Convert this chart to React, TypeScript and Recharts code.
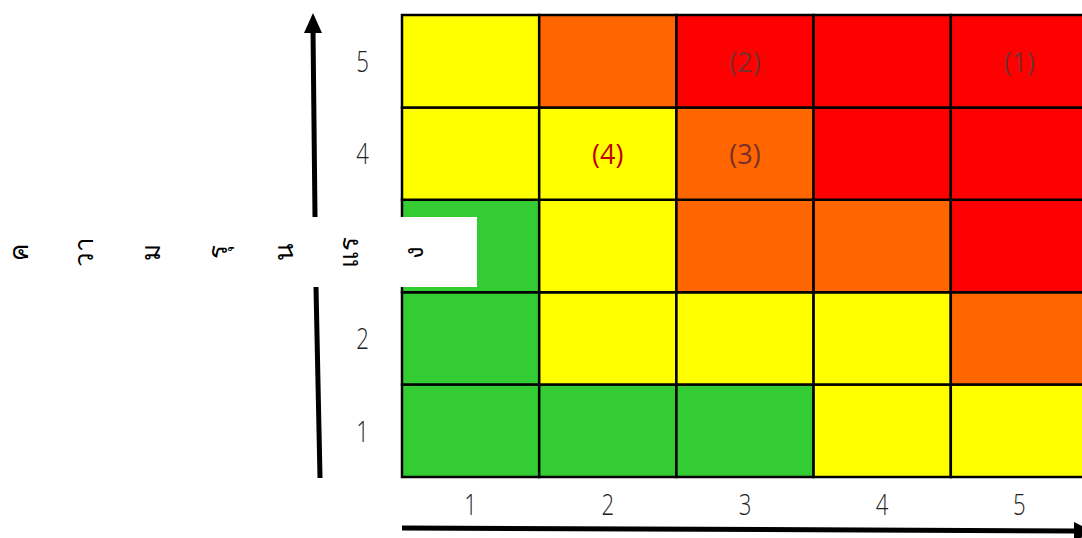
import React from "react";
import { ComposedChart, XAxis, YAxis, ReferenceArea, Scatter } from "recharts";

// Risk matrix: columns = x categories 1..5, rows = y categories 1..5
const xCategories = [1, 2, 3, 4, 5];
const yCategories = [1, 2, 3, 4, 5];
const xTickLabels = ["1", "2", "3", "4", "5"];
const yTickLabels = ["1", "2", "3", "4", "5"];

// risk level per cell (1 = low, 2 = medium, 3 = high, 4 = extreme), columns 1..5
const row1Levels = [1, 1, 1, 2, 2];
const row2Levels = [1, 2, 2, 2, 3];
const row3Levels = [1, 2, 3, 3, 4];
const row4Levels = [2, 2, 3, 4, 4];
const row5Levels = [2, 3, 4, 4, 4];

// numbered items placed in the matrix
const markerLabels = ["(1)", "(2)", "(3)", "(4)"];
const markerX = [5, 3, 3, 2];
const markerY = [5, 5, 4, 4];

// vertical axis title (written as stacked Thai clusters)
const axisTitleClusters = ["ค", "วา", "ม", "รุ", "น", "แร", "ง"];

const levelColors: Record<number, string> = {
  1: "#33CC33",
  2: "#FFFF00",
  3: "#FF6600",
  4: "#FF0000",
};
const highlightLabel = "(4)";

const rowLevels = [row1Levels, row2Levels, row3Levels, row4Levels, row5Levels];
const cells = yCategories.flatMap((y, ri) =>
  xCategories.map((x, ci) => ({ x, y, level: rowLevels[ri][ci] }))
);
const markers = markerLabels.map((label, i) => ({ x: markerX[i], y: markerY[i], label }));

const FONT = "'Open Sans', 'DejaVu Sans', sans-serif";

const makeTick = (labels: string[], anchor: "middle" | "end", dyv: string) => (props: any) => {
  const { x, y, payload } = props;
  return (
    <g transform={`translate(${x},${y}) scale(0.74,1)`}>
      <text x={0} y={0} dy={dyv} textAnchor={anchor} fontSize={30} fill="#222" fontFamily={FONT} fontWeight={300}>
        {labels[payload.value - 1]}
      </text>
    </g>
  );
};
const XTick = makeTick(xTickLabels, "middle", "0.71em");
const YTick = makeTick(yTickLabels, "end", "0.36em");

const MarkerShape = (props: any) => {
  const { cx, cy, payload } = props;
  const isHi = payload.label === highlightLabel;
  return (
    <text
      x={cx}
      y={cy}
      textAnchor="middle"
      dominantBaseline="central"
      fontSize={27}
      fontFamily={FONT}
      fill={isHi ? "#C00000" : "#7A2E2E"}
    >
      {payload.label}
    </text>
  );
};

const titleX = [18, 83, 150, 217, 283, 348, 413];

const Decorations = () => (
  <svg width={1082} height={538} style={{ position: "absolute", left: 0, top: 0, pointerEvents: "none" }}>
    {/* white label box covering part of grid */}
    <rect x={296} y={217} width={181} height={70} fill="#fff" />
    {/* vertical arrow */}
    <line x1={320} y1={478} x2={316} y2={287} stroke="#000" strokeWidth={5} />
    <line x1={315} y1={217} x2={313} y2={30} stroke="#000" strokeWidth={5} />
    <polygon points="313,13 304,33 322,33" fill="#000" />
    {/* horizontal arrow */}
    <line x1={402} y1={528} x2={1076} y2={531} stroke="#000" strokeWidth={5} />
    <polygon points="1094,532 1074,522 1074,541" fill="#000" />
    {axisTitleClusters.map((c, i) => (
      <text
        key={i}
        x={titleX[i]}
        y={252}
        transform={`rotate(-90 ${titleX[i]} 252)`}
        textAnchor="middle"
        dominantBaseline="central"
        fontSize={26}
        fill="#000"
        fontFamily="'Noto Sans', 'DejaVu Sans', sans-serif"
      >
        {c}
      </text>
    ))}
  </svg>
);

export default function App() {
  return (
    <div style={{ position: "absolute", left: 0, top: 0, width: 1082, height: 538, overflow: "hidden", background: "#fff" }}>
      <ComposedChart
        width={1090}
        height={538}
        margin={{ top: 15, right: 2, bottom: 0, left: 0 }}
      >
        <XAxis
          type="number"
          dataKey="x"
          domain={[0.5, 5.5]}
          ticks={xCategories}
          axisLine={false}
          tickLine={false}
          tickSize={0}
          tickMargin={17}
          tick={<XTick />}
          height={61}
          allowDataOverflow
        />
        <YAxis
          type="number"
          dataKey="y"
          domain={[0.5, 5.5]}
          ticks={yCategories}
          axisLine={false}
          tickLine={false}
          tickSize={0}
          tickMargin={33}
          tick={<YTick />}
          width={402}
          allowDataOverflow
        />
        {cells.map((c, i) => (
          <ReferenceArea
            key={i}
            x1={c.x - 0.5}
            x2={c.x + 0.5}
            y1={c.y - 0.5}
            y2={c.y + 0.5}
            fill={levelColors[c.level]}
            fillOpacity={1}
            stroke="#000"
            strokeWidth={2.5}
            ifOverflow="visible"
          />
        ))}
        <Scatter data={markers} isAnimationActive={false} shape={<MarkerShape />} />
      </ComposedChart>
      <Decorations />
    </div>
  );
}
